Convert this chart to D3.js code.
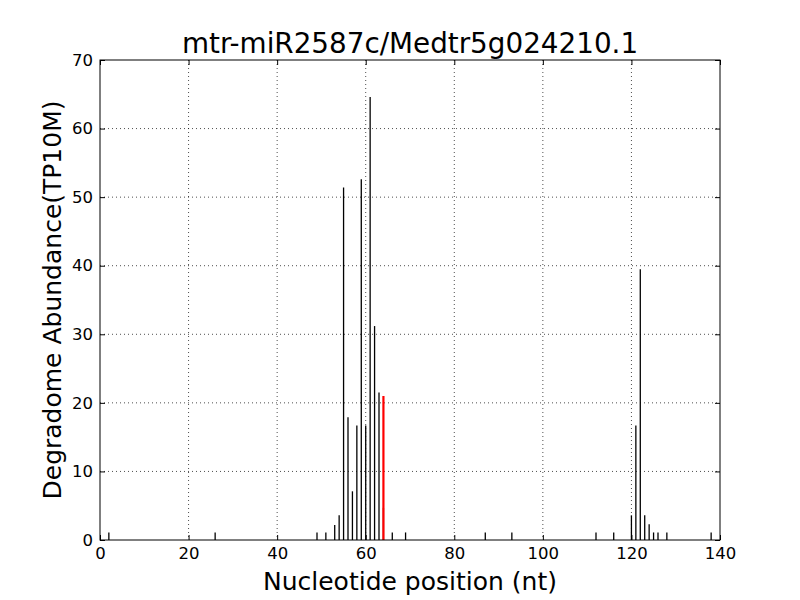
<!DOCTYPE html>
<html>
<head>
<meta charset="utf-8">
<script src="https://cdn.jsdelivr.net/npm/d3@7"></script>
<style>
  body { margin: 0; background: #fff; }
  text { font-family: "DejaVu Sans", sans-serif; }
</style>
</head>
<body>
<div id="chart"></div>
<script>
// positions and abundances
var positions = [2, 26, 49, 51, 53, 54, 55, 56, 57, 58, 59, 60, 61, 62, 63, 64, 66, 69, 87, 93,
                 112, 116, 120, 121, 122, 123, 124, 125, 126, 128, 138];
var abundance = [1.1, 1.1, 1.1, 1.1, 2.2, 3.6, 51.4, 17.9, 7.1, 16.7, 52.6, 16.7, 64.6, 31.2, 21.5, 4.7, 1.1, 1.1, 1.1, 1.1,
                 1.1, 1.1, 3.6, 16.7, 39.5, 3.6, 2.3, 1.1, 1.1, 1.1, 1.1];
var sitePosition = [64];
var siteAbundance = [21.0];
var xTicks = [0, 20, 40, 60, 80, 100, 120, 140];
var yTicks = [0, 10, 20, 30, 40, 50, 60, 70];

var margin = {top: 60, right: 80, bottom: 60, left: 100};
var width = 800 - margin.left - margin.right;
var height = 600 - margin.top - margin.bottom;

var svg = d3.select("#chart").append("svg")
    .attr("width", 800)
    .attr("height", 600);

var g = svg.append("g")
    .attr("transform", "translate(" + margin.left + "," + margin.top + ")");

var x = d3.scaleLinear().domain([0, 140]).range([0, width]);
var y = d3.scaleLinear().domain([0, 70]).range([height, 0]);

// grid
g.append("g").selectAll("line").data(xTicks.slice(1, -1)).enter().append("line")
    .attr("x1", function(d) { return x(d); })
    .attr("x2", function(d) { return x(d); })
    .attr("y1", 0).attr("y2", height)
    .attr("stroke", "#000").attr("stroke-width", 0.7)
    .attr("stroke-dasharray", "1,3");
g.append("g").selectAll("line").data(yTicks.slice(1, -1)).enter().append("line")
    .attr("y1", function(d) { return y(d); })
    .attr("y2", function(d) { return y(d); })
    .attr("x1", 0).attr("x2", width)
    .attr("stroke", "#000").attr("stroke-width", 0.7)
    .attr("stroke-dasharray", "1,3");

// bars
var data = positions.map(function(p, i) { return {pos: p, val: abundance[i]}; });
g.append("g").selectAll("line").data(data).enter().append("line")
    .attr("x1", function(d) { return x(d.pos); })
    .attr("x2", function(d) { return x(d.pos); })
    .attr("y1", y(0))
    .attr("y2", function(d) { return y(d.val); })
    .attr("stroke", "#000").attr("stroke-width", 1.3);

var site = sitePosition.map(function(p, i) { return {pos: p, val: siteAbundance[i]}; });
g.append("g").selectAll("line").data(site).enter().append("line")
    .attr("x1", function(d) { return x(d.pos); })
    .attr("x2", function(d) { return x(d.pos); })
    .attr("y1", y(0))
    .attr("y2", function(d) { return y(d.val); })
    .attr("stroke", "#ff0000").attr("stroke-width", 2.2);

// axes, ticks pointing inward on all sides
function styleAxis(sel) {
  sel.select(".domain").remove();
  sel.selectAll(".tick line").attr("stroke", "#000");
  sel.selectAll(".tick text").style("font-size", "16.5px").attr("fill", "#000");
}

g.append("g")
    .attr("transform", "translate(0," + height + ")")
    .call(d3.axisBottom(x).tickValues(xTicks).tickSizeInner(-5).tickSizeOuter(0).tickPadding(7))
    .call(styleAxis);
g.append("g")
    .call(d3.axisTop(x).tickValues(xTicks).tickSizeInner(-5).tickSizeOuter(0).tickFormat(""))
    .call(styleAxis);
g.append("g")
    .call(d3.axisLeft(y).tickValues(yTicks).tickSizeInner(-5).tickSizeOuter(0).tickPadding(7))
    .call(styleAxis);
g.append("g")
    .attr("transform", "translate(" + width + ",0)")
    .call(d3.axisRight(y).tickValues(yTicks).tickSizeInner(-5).tickSizeOuter(0).tickFormat(""))
    .call(styleAxis);

g.append("rect")
    .attr("width", width).attr("height", height)
    .attr("fill", "none").attr("stroke", "#000").attr("stroke-width", 1);

// labels
svg.append("text")
    .attr("x", margin.left + width / 2).attr("y", 53)
    .attr("text-anchor", "middle")
    .style("font-size", "27.8px")
    .text("mtr-miR2587c/Medtr5g024210.1");

svg.append("text")
    .attr("x", margin.left + width / 2).attr("y", 590)
    .attr("text-anchor", "middle")
    .style("font-size", "25px")
    .text("Nucleotide position (nt)");

svg.append("text")
    .attr("transform", "translate(61," + (margin.top + height / 2) + ") rotate(-90)")
    .attr("text-anchor", "middle")
    .style("font-size", "25px")
    .text("Degradome Abundance(TP10M)");
</script>
</body>
</html>
